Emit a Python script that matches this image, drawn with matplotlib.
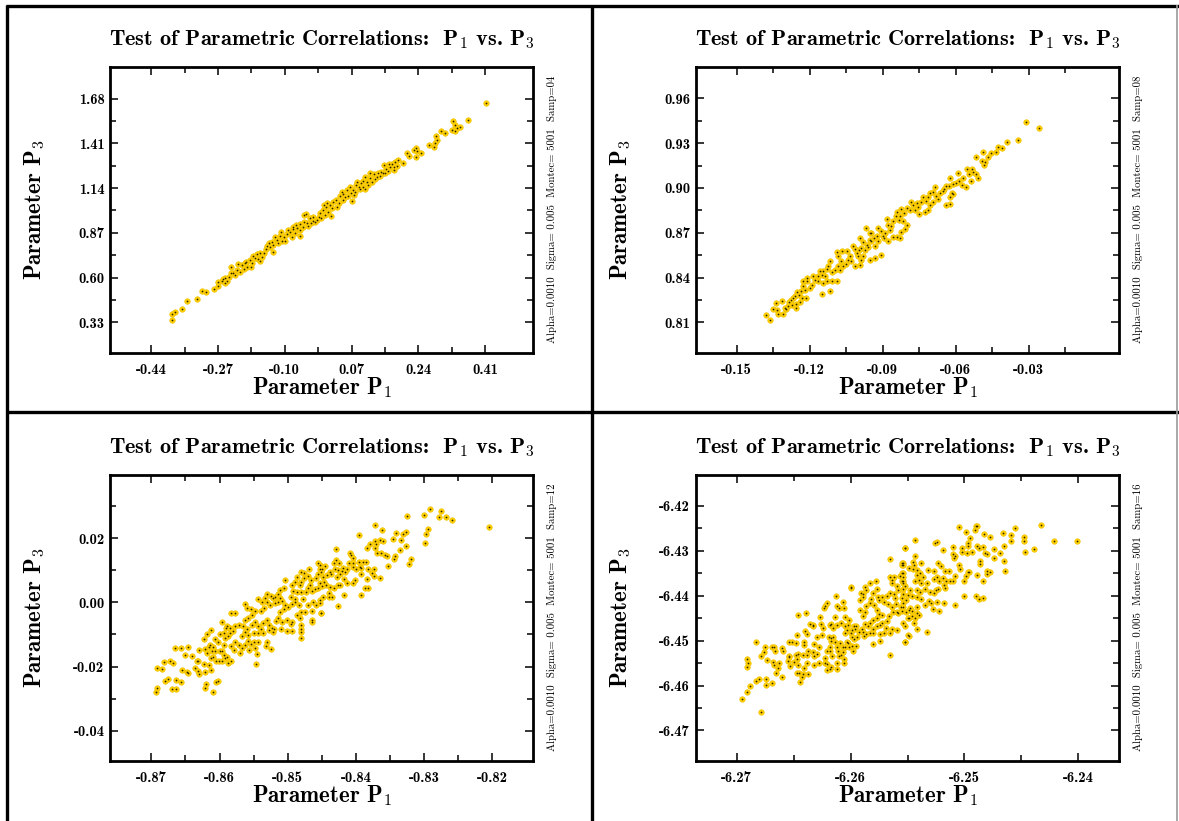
import matplotlib
matplotlib.use("Agg")
import matplotlib.pyplot as plt
from matplotlib.lines import Line2D

plt.rcParams['mathtext.fontset'] = 'cm'
plt.rcParams['axes.unicode_minus'] = False

# ---------------- data (P1, P3) pairs ----------------
p1_xy = [
    (0.189, 1.309), (0.181, 1.299), (0.174, 1.285), (0.187, 1.273), (0.168, 1.265), (0.179, 1.249),
    (0.163, 1.243), (0.153, 1.277), (0.158, 1.253), (0.149, 1.229), (0.143, 1.214), (0.134, 1.204),
    (0.126, 1.222), (0.118, 1.229), (0.130, 1.192), (0.121, 1.176), (0.109, 1.178), (0.100, 1.184),
    (0.113, 1.158), (0.098, 1.148), (0.085, 1.178), (0.082, 1.158), (0.073, 1.128), (0.092, 1.132),
    (0.105, 1.136), (0.079, 1.118), (0.066, 1.144), (0.058, 1.128), (0.049, 1.104), (0.062, 1.092),
    (0.072, 1.064), (0.041, 1.092), (0.048, 1.068), (0.037, 1.048), (0.024, 1.058), (0.015, 1.038),
    (0.032, 1.028), (0.005, 1.028), (-0.003, 1.008), (0.011, 0.998), (0.017, 0.972), (0.003, 0.978),
    (-0.010, 0.988), (-0.008, 0.958), (-0.018, 0.948), (-0.027, 0.968), (-0.023, 0.938), (-0.034, 0.928),
    (-0.044, 0.932), (-0.040, 0.912), (-0.051, 0.976), (-0.047, 0.984), (-0.054, 0.904), (-0.061, 0.924),
    (-0.068, 0.898), (-0.078, 0.891), (-0.086, 0.877), (-0.074, 0.867), (-0.062, 0.851), (-0.082, 0.847),
    (-0.095, 0.863), (-0.103, 0.847), (-0.112, 0.851), (-0.107, 0.823), (-0.120, 0.827), (-0.116, 0.807),
    (-0.129, 0.797), (-0.141, 0.811), (-0.137, 0.787), (-0.147, 0.771), (-0.130, 0.757), (-0.154, 0.747),
    (-0.164, 0.751), (-0.171, 0.741), (-0.180, 0.731), (-0.169, 0.713), (-0.163, 0.703), (-0.188, 0.707),
    (-0.198, 0.697), (-0.195, 0.667), (-0.209, 0.677), (-0.218, 0.683), (-0.205, 0.653), (-0.186, 0.667),
    (-0.222, 0.647), (-0.232, 0.631), (-0.226, 0.617), (-0.243, 0.607), (-0.252, 0.597), (-0.236, 0.663),
    (-0.247, 0.583), (-0.260, 0.577), (-0.269, 0.571), (-0.252, 0.567), (-0.269, 0.550),
    (-0.281, 0.532), (-0.300, 0.512), (-0.310, 0.520), (-0.324, 0.470), (-0.349, 0.462), (-0.362, 0.412),
    (-0.380, 0.394), (-0.386, 0.380), (-0.386, 0.344),
    (0.412, 1.656), (0.367, 1.553), (0.329, 1.543), (0.333, 1.523), (0.338, 1.505), (0.326, 1.493),
    (0.334, 1.487), (0.345, 1.509), (0.308, 1.473), (0.298, 1.485), (0.285, 1.455), (0.288, 1.427),
    (0.283, 1.409), (0.280, 1.389), (0.266, 1.399), (0.233, 1.379), (0.236, 1.363), (0.228, 1.369),
    (0.246, 1.353), (0.212, 1.353), (0.216, 1.331), (0.234, 1.329), (0.202, 1.291),
    (0.177, 1.269), (0.166, 1.285), (0.155, 1.233), (0.144, 1.239), (0.138, 1.229), (0.116, 1.198),
    (0.105, 1.204), (0.094, 1.168), (0.088, 1.144), (0.077, 1.098), (0.068, 1.108), (0.054, 1.084),
    (0.045, 1.118), (0.031, 1.068), (0.020, 1.018), (0.007, 1.048), (0.000, 1.038), (-0.014, 0.968),
    (-0.029, 0.944), (-0.037, 0.958), (-0.052, 0.938), (-0.062, 0.887), (-0.071, 0.918), (-0.079, 0.904),
    (-0.091, 0.887), (-0.099, 0.823), (-0.110, 0.877), (-0.124, 0.847), (-0.133, 0.817), (-0.146, 0.791),
    (-0.158, 0.727), (-0.175, 0.717), (-0.184, 0.687), (-0.201, 0.687), (-0.213, 0.637), (-0.237, 0.627),
    (-0.258, 0.591),
]

p2_xy = [
    (-0.0312, 0.9440), (-0.0258, 0.9399), (-0.0344, 0.9321), (-0.0390, 0.9308), (-0.0427, 0.9277),
    (-0.0409, 0.9268), (-0.0433, 0.9241), (-0.0455, 0.9237), (-0.0466, 0.9210), (-0.0487, 0.9241),
    (-0.0515, 0.9206), (-0.0493, 0.9183), (-0.0479, 0.9177), (-0.0482, 0.9152), (-0.0553, 0.9125),
    (-0.0535, 0.9130), (-0.0528, 0.9108), (-0.0545, 0.9094), (-0.0515, 0.9094), (-0.0508, 0.9070),
    (-0.0539, 0.9045), (-0.0572, 0.9065), (-0.0589, 0.9103), (-0.0586, 0.9050), (-0.0597, 0.9036),
    (-0.0576, 0.9021), (-0.0559, 0.9005), (-0.0611, 0.9027), (-0.0622, 0.9065), (-0.0627, 0.9010),
    (-0.0638, 0.9014), (-0.0647, 0.8992), (-0.0654, 0.8983), (-0.0617, 0.8965), (-0.0624, 0.8938),
    (-0.0613, 0.8961), (-0.0638, 0.8889), (-0.0624, 0.8894), (-0.0665, 0.8965), (-0.0679, 0.8943),
    (-0.0686, 0.9005), (-0.0693, 0.8976), (-0.0704, 0.8965), (-0.0713, 0.8938), (-0.0723, 0.8916),
    (-0.0706, 0.8887), (-0.0693, 0.8903), (-0.0672, 0.8925), (-0.0736, 0.8938), (-0.0742, 0.8909),
    (-0.0754, 0.8871), (-0.0761, 0.8898), (-0.0775, 0.8887), (-0.0782, 0.8903), (-0.0768, 0.8854),
    (-0.0750, 0.8827), (-0.0727, 0.8842), (-0.0713, 0.8854), (-0.0788, 0.8854), (-0.0802, 0.8865),
    (-0.0813, 0.8831), (-0.0823, 0.8858), (-0.0829, 0.8814), (-0.0843, 0.8842), (-0.0832, 0.8787),
    (-0.0818, 0.8776), (-0.0802, 0.8753), (-0.0809, 0.8724), (-0.0823, 0.8702), (-0.0846, 0.8809),
    (-0.0857, 0.8776), (-0.0864, 0.8747), (-0.0870, 0.8720), (-0.0884, 0.8791), (-0.0877, 0.8753),
    (-0.0891, 0.8698), (-0.0905, 0.8715), (-0.0898, 0.8680), (-0.0895, 0.8664), (-0.0877, 0.8642),
    (-0.0857, 0.8675), (-0.0843, 0.8671), (-0.0829, 0.8664), (-0.0918, 0.8731), (-0.0925, 0.8680),
    (-0.0936, 0.8664), (-0.0946, 0.8698), (-0.0953, 0.8649), (-0.0969, 0.8731), (-0.0980, 0.8635),
    (-0.0994, 0.8664), (-0.0966, 0.8620), (-0.0959, 0.8604), (-0.0973, 0.8586), (-0.0987, 0.8597),
    (-0.0996, 0.8582), (-0.1007, 0.8564), (-0.1000, 0.8542), (-0.0987, 0.8519), (-0.1014, 0.8475),
    (-0.1028, 0.8508), (-0.1035, 0.8542), (-0.1041, 0.8519), (-0.1051, 0.8493), (-0.1062, 0.8475),
    (-0.1076, 0.8453), (-0.1087, 0.8568), (-0.1083, 0.8542), (-0.1065, 0.8577), (-0.1046, 0.8577),
    (-0.1021, 0.8613), (-0.1014, 0.8591), (-0.0932, 0.8531), (-0.0905, 0.8553), (-0.0953, 0.8519),
    (-0.0980, 0.8542), (-0.0994, 0.8486), (-0.1069, 0.8508), (-0.1083, 0.8475), (-0.1096, 0.8453),
    (-0.1106, 0.8435), (-0.1117, 0.8508), (-0.1124, 0.8479), (-0.1130, 0.8457), (-0.1144, 0.8441),
    (-0.1158, 0.8443), (-0.1165, 0.8408), (-0.1151, 0.8419), (-0.1137, 0.8408), (-0.1110, 0.8375),
    (-0.1089, 0.8375), (-0.1130, 0.8375), (-0.1144, 0.8363), (-0.1165, 0.8375), (-0.1178, 0.8386),
    (-0.1185, 0.8408), (-0.1192, 0.8352), (-0.1199, 0.8330), (-0.1212, 0.8397), (-0.1210, 0.8375),
    (-0.1226, 0.8375), (-0.1229, 0.8341), (-0.1219, 0.8319), (-0.1237, 0.8308), (-0.1243, 0.8283),
    (-0.1251, 0.8301), (-0.1260, 0.8274), (-0.1270, 0.8263), (-0.1278, 0.8248), (-0.1284, 0.8234),
    (-0.1273, 0.8219), (-0.1288, 0.8207), (-0.1256, 0.8225), (-0.1254, 0.8196), (-0.1240, 0.8234),
    (-0.1233, 0.8263), (-0.1215, 0.8261), (-0.1297, 0.8190), (-0.1315, 0.8241), (-0.1338, 0.8230),
    (-0.1349, 0.8190), (-0.1333, 0.8181), (-0.1329, 0.8156), (-0.1311, 0.8158), (-0.1301, 0.8194),
    (-0.1379, 0.8147), (-0.1363, 0.8118), (-0.1151, 0.8292), (-0.1117, 0.8312), (-0.0918, 0.8642),
    (-0.0946, 0.8642), (-0.0953, 0.8698), (-0.0932, 0.8609),
]

p3_xy = [
    (-0.8693, -0.0278), (-0.8691, -0.0268), (-0.8670, -0.0271), (-0.8664, -0.0270), (-0.8680, -0.0244),
    (-0.8675, -0.0238), (-0.8664, -0.0242), (-0.8656, -0.0247), (-0.8691, -0.0205), (-0.8684, -0.0207),
    (-0.8682, -0.0187), (-0.8672, -0.0184), (-0.8668, -0.0188), (-0.8665, -0.0141), (-0.8657, -0.0141),
    (-0.8646, -0.0138), (-0.8651, -0.0164), (-0.8641, -0.0166), (-0.8630, -0.0148), (-0.8621, -0.0146),
    (-0.8655, -0.0211), (-0.8648, -0.0216), (-0.8646, -0.0221), (-0.8636, -0.0205), (-0.8631, -0.0213),
    (-0.8630, -0.0224), (-0.8621, -0.0216), (-0.8612, -0.0211), (-0.8616, -0.0195), (-0.8623, -0.0191),
    (-0.8631, -0.0184), (-0.8633, -0.0182), (-0.8620, -0.0254), (-0.8621, -0.0266), (-0.8605, -0.0247),
    (-0.8602, -0.0245), (-0.8609, -0.0278), (-0.8612, -0.0174), (-0.8609, -0.0171), (-0.8605, -0.0184),
    (-0.8601, -0.0184), (-0.8597, -0.0182), (-0.8592, -0.0174), (-0.8587, -0.0190), (-0.8583, -0.0182),
    (-0.8594, -0.0164), (-0.8589, -0.0169), (-0.8599, -0.0153), (-0.8606, -0.0153), (-0.8611, -0.0153),
    (-0.8616, -0.0138), (-0.8614, -0.0132), (-0.8618, -0.0159), (-0.8609, -0.0138), (-0.8602, -0.0122),
    (-0.8596, -0.0153), (-0.8593, -0.0132), (-0.8607, -0.0114), (-0.8623, -0.0114), (-0.8618, -0.0099),
    (-0.8612, -0.0087), (-0.8599, -0.0099), (-0.8594, -0.0095), (-0.8592, -0.0112), (-0.8588, -0.0106),
    (-0.8583, -0.0135), (-0.8579, -0.0148), (-0.8578, -0.0124), (-0.8572, -0.0132), (-0.8567, -0.0143),
    (-0.8570, -0.0159), (-0.8563, -0.0132), (-0.8559, -0.0120), (-0.8557, -0.0147), (-0.8554, -0.0130),
    (-0.8550, -0.0122), (-0.8548, -0.0143), (-0.8543, -0.0122), (-0.8545, -0.0162), (-0.8547, -0.0193),
    (-0.8531, -0.0124), (-0.8532, -0.0135), (-0.8525, -0.0145), (-0.8567, -0.0106), (-0.8563, -0.0091),
    (-0.8558, -0.0101), (-0.8550, -0.0096), (-0.8543, -0.0096), (-0.8537, -0.0096), (-0.8581, -0.0089),
    (-0.8584, -0.0096), (-0.8578, -0.0075), (-0.8584, -0.0080), (-0.8589, -0.0072), (-0.8596, -0.0062),
    (-0.8591, -0.0080), (-0.8572, -0.0070), (-0.8565, -0.0075), (-0.8560, -0.0083), (-0.8553, -0.0070),
    (-0.8548, -0.0060), (-0.8543, -0.0075), (-0.8539, -0.0083), (-0.8536, -0.0065), (-0.8531, -0.0054),
    (-0.8527, -0.0070), (-0.8523, -0.0080), (-0.8521, -0.0091), (-0.8528, -0.0086), (-0.8563, -0.0054),
    (-0.8558, -0.0049), (-0.8552, -0.0039), (-0.8548, -0.0026), (-0.8554, -0.0020), (-0.8563, -0.0006),
    (-0.8560, -0.0018), (-0.8583, -0.0034), (-0.8577, -0.0034), (-0.8539, -0.0026), (-0.8535, -0.0016),
    (-0.8531, 0.0002), (-0.8526, -0.0008), (-0.8522, 0.0013), (-0.8519, -0.0003), (-0.8515, 0.0000),
    (-0.8511, 0.0015), (-0.8508, 0.0006), (-0.8504, -0.0008), (-0.8499, -0.0013), (-0.8494, -0.0006),
    (-0.8490, 0.0002), (-0.8484, -0.0008), (-0.8505, -0.0020), (-0.8511, -0.0029), (-0.8515, -0.0047),
    (-0.8518, -0.0058), (-0.8509, -0.0060), (-0.8501, -0.0054), (-0.8494, -0.0060), (-0.8495, -0.0068),
    (-0.8487, -0.0039), (-0.8482, -0.0049), (-0.8480, -0.0070), (-0.8481, -0.0083), (-0.8480, -0.0093),
    (-0.8480, -0.0110), (-0.8494, -0.0089), (-0.8501, -0.0089), (-0.8510, -0.0083), (-0.8520, -0.0083),
    (-0.8511, 0.0039), (-0.8505, 0.0044), (-0.8515, 0.0025), (-0.8519, 0.0018), (-0.8524, 0.0021),
    (-0.8530, 0.0025), (-0.8533, 0.0015), (-0.8538, 0.0002), (-0.8543, 0.0011), (-0.8492, 0.0036),
    (-0.8487, 0.0032), (-0.8482, 0.0054), (-0.8480, 0.0063), (-0.8476, 0.0075), (-0.8471, 0.0084),
    (-0.8466, 0.0070), (-0.8467, 0.0054), (-0.8480, 0.0034), (-0.8474, 0.0034), (-0.8471, 0.0044),
    (-0.8465, 0.0036), (-0.8460, 0.0042), (-0.8455, 0.0046), (-0.8453, 0.0060), (-0.8458, 0.0075),
    (-0.8455, 0.0088), (-0.8448, 0.0080), (-0.8450, 0.0106), (-0.8453, 0.0117), (-0.8456, 0.0122),
    (-0.8469, 0.0106), (-0.8476, 0.0091), (-0.8480, 0.0096), (-0.8487, 0.0080), (-0.8490, 0.0063),
    (-0.8494, 0.0054), (-0.8504, 0.0070), (-0.8495, 0.0018), (-0.8489, 0.0011), (-0.8477, 0.0011),
    (-0.8480, -0.0029), (-0.8475, -0.0031), (-0.8465, -0.0026), (-0.8470, -0.0008), (-0.8463, 0.0000),
    (-0.8458, -0.0008), (-0.8451, -0.0034), (-0.8465, -0.0054), (-0.8464, -0.0062),
    (-0.8205, 0.0236), (-0.8292, 0.0293), (-0.8275, 0.0286), (-0.8300, 0.0273), (-0.8279, 0.0267),
    (-0.8268, 0.0267), (-0.8259, 0.0257), (-0.8326, 0.0271), (-0.8294, 0.0229), (-0.8298, 0.0215),
    (-0.8299, 0.0187), (-0.8372, 0.0241), (-0.8362, 0.0226), (-0.8396, 0.0210), (-0.8341, 0.0218),
    (-0.8331, 0.0213), (-0.8327, 0.0219), (-0.8346, 0.0199), (-0.8334, 0.0196), (-0.8365, 0.0195),
    (-0.8361, 0.0192), (-0.8372, 0.0192), (-0.8379, 0.0181), (-0.8384, 0.0169), (-0.8372, 0.0169),
    (-0.8371, 0.0181), (-0.8369, 0.0156), (-0.8363, 0.0156), (-0.8358, 0.0148), (-0.8354, 0.0146),
    (-0.8343, 0.0145), (-0.8345, 0.0135), (-0.8353, 0.0115), (-0.8336, 0.0163), (-0.8327, 0.0177),
    (-0.8319, 0.0137), (-0.8323, 0.0121), (-0.8429, 0.0166), (-0.8409, 0.0156), (-0.8408, 0.0148),
    (-0.8404, 0.0140), (-0.8429, 0.0132), (-0.8432, 0.0122), (-0.8425, 0.0122), (-0.8445, 0.0114),
    (-0.8453, 0.0106), (-0.8451, 0.0096), (-0.8410, 0.0122), (-0.8404, 0.0122), (-0.8395, 0.0127),
    (-0.8390, 0.0127), (-0.8385, 0.0125), (-0.8394, 0.0112), (-0.8392, 0.0108), (-0.8404, 0.0112),
    (-0.8400, 0.0104), (-0.8413, 0.0104), (-0.8419, 0.0108), (-0.8421, 0.0098), (-0.8416, 0.0094),
    (-0.8426, 0.0101), (-0.8431, 0.0106), (-0.8438, 0.0096), (-0.8436, 0.0088), (-0.8443, 0.0086),
    (-0.8428, 0.0080), (-0.8423, 0.0088), (-0.8383, 0.0106), (-0.8374, 0.0106), (-0.8377, 0.0093),
    (-0.8374, 0.0082), (-0.8365, 0.0075), (-0.8393, 0.0088), (-0.8401, 0.0070), (-0.8405, 0.0062),
    (-0.8413, 0.0062), (-0.8418, 0.0072), (-0.8423, 0.0054), (-0.8427, 0.0054), (-0.8433, 0.0046),
    (-0.8438, 0.0049), (-0.8444, 0.0056), (-0.8447, 0.0065), (-0.8450, 0.0052), (-0.8439, 0.0031),
    (-0.8435, 0.0018), (-0.8439, 0.0018), (-0.8449, 0.0018), (-0.8453, 0.0008), (-0.8387, 0.0046),
    (-0.8383, 0.0046), (-0.8384, 0.0073), (-0.8393, 0.0023), (-0.8418, 0.0023), (-0.8426, -0.0010),
    (-0.8451, -0.0033), (-0.8453, -0.0003),
]

p4_xy = [
    (-6.2695, -6.4630), (-6.2679, -6.4658), (-6.2691, -6.4614), (-6.2688, -6.4602), (-6.2683, -6.4589),
    (-6.2680, -6.4585), (-6.2691, -6.4559), (-6.2690, -6.4550), (-6.2691, -6.4541), (-6.2683, -6.4503),
    (-6.2679, -6.4534), (-6.2676, -6.4526), (-6.2675, -6.4513), (-6.2669, -6.4515), (-6.2667, -6.4514),
    (-6.2666, -6.4524), (-6.2673, -6.4544), (-6.2668, -6.4547), (-6.2667, -6.4554), (-6.2663, -6.4550),
    (-6.2664, -6.4561), (-6.2665, -6.4571), (-6.2660, -6.4580), (-6.2669, -6.4595), (-6.2674, -6.4598),
    (-6.2674, -6.4586), (-6.2660, -6.4517), (-6.2659, -6.4524), (-6.2654, -6.4502), (-6.2651, -6.4502),
    (-6.2648, -6.4506), (-6.2647, -6.4488), (-6.2654, -6.4534), (-6.2655, -6.4546), (-6.2653, -6.4556),
    (-6.2654, -6.4537), (-6.2648, -6.4532), (-6.2646, -6.4530), (-6.2647, -6.4541), (-6.2650, -6.4548),
    (-6.2646, -6.4554), (-6.2647, -6.4572), (-6.2645, -6.4572), (-6.2643, -6.4580), (-6.2642, -6.4574),
    (-6.2644, -6.4593), (-6.2641, -6.4561), (-6.2637, -6.4574), (-6.2638, -6.4549), (-6.2642, -6.4532),
    (-6.2638, -6.4532), (-6.2637, -6.4522), (-6.2641, -6.4510), (-6.2641, -6.4504), (-6.2640, -6.4478),
    (-6.2638, -6.4485), (-6.2636, -6.4463), (-6.2633, -6.4465), (-6.2633, -6.4467), (-6.2646, -6.4443),
    (-6.2639, -6.4439), (-6.2633, -6.4526), (-6.2632, -6.4534), (-6.2629, -6.4529), (-6.2628, -6.4550),
    (-6.2632, -6.4555), (-6.2628, -6.4513), (-6.2632, -6.4507), (-6.2629, -6.4492), (-6.2625, -6.4487),
    (-6.2627, -6.4448), (-6.2626, -6.4463), (-6.2624, -6.4472), (-6.2623, -6.4428), (-6.2622, -6.4422),
    (-6.2621, -6.4417), (-6.2618, -6.4465), (-6.2617, -6.4463), (-6.2614, -6.4448), (-6.2613, -6.4401),
    (-6.2612, -6.4423), (-6.2610, -6.4428), (-6.2615, -6.4471), (-6.2612, -6.4466), (-6.2608, -6.4461),
    (-6.2607, -6.4414), (-6.2606, -6.4428), (-6.2605, -6.4467), (-6.2602, -6.4466), (-6.2601, -6.4454),
    (-6.2600, -6.4381), (-6.2600, -6.4383), (-6.2605, -6.4448), (-6.2619, -6.4491), (-6.2617, -6.4494),
    (-6.2615, -6.4491), (-6.2617, -6.4500), (-6.2618, -6.4513), (-6.2614, -6.4504), (-6.2612, -6.4513),
    (-6.2609, -6.4506), (-6.2611, -6.4524), (-6.2618, -6.4524), (-6.2616, -6.4535), (-6.2621, -6.4524),
    (-6.2622, -6.4539), (-6.2622, -6.4549), (-6.2621, -6.4552), (-6.2621, -6.4565), (-6.2618, -6.4563),
    (-6.2617, -6.4558), (-6.2612, -6.4550), (-6.2612, -6.4563), (-6.2610, -6.4535), (-6.2608, -6.4532),
    (-6.2607, -6.4526), (-6.2606, -6.4549), (-6.2606, -6.4541), (-6.2607, -6.4513), (-6.2605, -6.4513),
    (-6.2603, -6.4502), (-6.2602, -6.4506), (-6.2601, -6.4513), (-6.2599, -6.4511), (-6.2598, -6.4522),
    (-6.2600, -6.4482), (-6.2599, -6.4476), (-6.2597, -6.4468), (-6.2596, -6.4474), (-6.2595, -6.4468),
    (-6.2593, -6.4480), (-6.2590, -6.4474), (-6.2594, -6.4491), (-6.2597, -6.4497), (-6.2595, -6.4511),
    (-6.2599, -6.4491), (-6.2605, -6.4483), (-6.2603, -6.4476), (-6.2592, -6.4409), (-6.2591, -6.4393),
    (-6.2589, -6.4396), (-6.2589, -6.4403), (-6.2592, -6.4431), (-6.2589, -6.4446), (-6.2587, -6.4437),
    (-6.2586, -6.4423), (-6.2583, -6.4417), (-6.2582, -6.4408), (-6.2580, -6.4394), (-6.2586, -6.4387),
    (-6.2587, -6.4381), (-6.2583, -6.4371), (-6.2578, -6.4366), (-6.2577, -6.4385), (-6.2576, -6.4402),
    (-6.2575, -6.4409), (-6.2579, -6.4420), (-6.2577, -6.4431), (-6.2575, -6.4440), (-6.2572, -6.4443),
    (-6.2577, -6.4450), (-6.2580, -6.4455), (-6.2583, -6.4461), (-6.2585, -6.4468), (-6.2587, -6.4463),
    (-6.2589, -6.4480), (-6.2588, -6.4489), (-6.2586, -6.4486), (-6.2583, -6.4483), (-6.2580, -6.4473),
    (-6.2577, -6.4468), (-6.2574, -6.4465), (-6.2572, -6.4460), (-6.2568, -6.4457), (-6.2566, -6.4445),
    (-6.2563, -6.4437), (-6.2559, -6.4437), (-6.2556, -6.4424), (-6.2554, -6.4417), (-6.2560, -6.4418),
    (-6.2564, -6.4424), (-6.2567, -6.4418), (-6.2571, -6.4413), (-6.2572, -6.4402), (-6.2568, -6.4400),
    (-6.2565, -6.4393), (-6.2562, -6.4396), (-6.2561, -6.4405), (-6.2558, -6.4387), (-6.2559, -6.4379),
    (-6.2564, -6.4372), (-6.2564, -6.4365), (-6.2565, -6.4359), (-6.2562, -6.4359), (-6.2557, -6.4357),
    (-6.2555, -6.4350), (-6.2555, -6.4368), (-6.2554, -6.4371), (-6.2552, -6.4379), (-6.2554, -6.4385),
    (-6.2554, -6.4326), (-6.2555, -6.4331), (-6.2565, -6.4319), (-6.2552, -6.4293), (-6.2580, -6.4483),
    (-6.2574, -6.4486), (-6.2571, -6.4483), (-6.2569, -6.4472), (-6.2565, -6.4483), (-6.2564, -6.4474),
    (-6.2580, -6.4507), (-6.2574, -6.4500), (-6.2565, -6.4532), (-6.2559, -6.4476), (-6.2558, -6.4439),
    (-6.2550, -6.4487), (-6.2552, -6.4502), (-6.2551, -6.4409), (-6.2549, -6.4431), (-6.2549, -6.4450),
    (-6.2401, -6.4278), (-6.2421, -6.4277), (-6.2433, -6.4242), (-6.2439, -6.4296), (-6.2447, -6.4302),
    (-6.2448, -6.4268), (-6.2448, -6.4279), (-6.2456, -6.4250), (-6.2459, -6.4265), (-6.2459, -6.4277),
    (-6.2466, -6.4260), (-6.2465, -6.4289), (-6.2469, -6.4305), (-6.2474, -6.4296), (-6.2474, -6.4316),
    (-6.2465, -6.4322), (-6.2464, -6.4344), (-6.2478, -6.4270), (-6.2483, -6.4262), (-6.2490, -6.4244),
    (-6.2491, -6.4253), (-6.2489, -6.4244), (-6.2495, -6.4271), (-6.2497, -6.4282), (-6.2497, -6.4290),
    (-6.2499, -6.4259), (-6.2505, -6.4246), (-6.2502, -6.4293), (-6.2502, -6.4302), (-6.2498, -6.4304),
    (-6.2493, -6.4302), (-6.2489, -6.4289), (-6.2487, -6.4293), (-6.2484, -6.4292), (-6.2482, -6.4304),
    (-6.2480, -6.4307), (-6.2486, -6.4322), (-6.2486, -6.4330), (-6.2484, -6.4367), (-6.2496, -6.4348),
    (-6.2497, -6.4346), (-6.2499, -6.4356), (-6.2500, -6.4367), (-6.2504, -6.4341), (-6.2505, -6.4331),
    (-6.2508, -6.4311), (-6.2510, -6.4307), (-6.2510, -6.4292), (-6.2509, -6.4315), (-6.2508, -6.4357),
    (-6.2510, -6.4368), (-6.2514, -6.4345), (-6.2517, -6.4344), (-6.2519, -6.4360), (-6.2522, -6.4368),
    (-6.2518, -6.4376), (-6.2516, -6.4368), (-6.2513, -6.4366), (-6.2517, -6.4383), (-6.2523, -6.4385),
    (-6.2525, -6.4388), (-6.2527, -6.4393), (-6.2530, -6.4391), (-6.2532, -6.4342), (-6.2527, -6.4345),
    (-6.2524, -6.4359), (-6.2527, -6.4363), (-6.2523, -6.4328), (-6.2521, -6.4334), (-6.2519, -6.4299),
    (-6.2526, -6.4283), (-6.2524, -6.4281), (-6.2543, -6.4276), (-6.2552, -6.4293), (-6.2538, -6.4326),
    (-6.2543, -6.4311), (-6.2545, -6.4324), (-6.2544, -6.4331), (-6.2555, -6.4326), (-6.2554, -6.4331),
    (-6.2554, -6.4350), (-6.2554, -6.4359), (-6.2554, -6.4368), (-6.2549, -6.4339), (-6.2545, -6.4341),
    (-6.2542, -6.4342), (-6.2542, -6.4354), (-6.2539, -6.4350), (-6.2536, -6.4359), (-6.2540, -6.4365),
    (-6.2543, -6.4366), (-6.2538, -6.4371), (-6.2533, -6.4372), (-6.2535, -6.4385), (-6.2539, -6.4391),
    (-6.2542, -6.4388), (-6.2548, -6.4388), (-6.2550, -6.4398), (-6.2554, -6.4396), (-6.2555, -6.4405),
    (-6.2546, -6.4400), (-6.2542, -6.4403), (-6.2538, -6.4408), (-6.2535, -6.4420), (-6.2542, -6.4424),
    (-6.2548, -6.4428), (-6.2554, -6.4424), (-6.2555, -6.4435), (-6.2551, -6.4437), (-6.2546, -6.4435),
    (-6.2542, -6.4439), (-6.2540, -6.4443), (-6.2543, -6.4450), (-6.2546, -6.4446), (-6.2550, -6.4450),
    (-6.2554, -6.4460), (-6.2552, -6.4467), (-6.2544, -6.4461), (-6.2542, -6.4474), (-6.2549, -6.4489),
    (-6.2552, -6.4503), (-6.2533, -6.4481), (-6.2531, -6.4411), (-6.2529, -6.4415), (-6.2524, -6.4413),
    (-6.2518, -6.4415), (-6.2522, -6.4435), (-6.2528, -6.4429), (-6.2508, -6.4420), (-6.2500, -6.4400),
    (-6.2490, -6.4400), (-6.2487, -6.4407), (-6.2484, -6.4406), (-6.2489, -6.4354), (-6.2480, -6.4351),
    (-6.2478, -6.4348), (-6.2480, -6.4344),
]

# ---------------- axis ticks / labels ----------------
p1_xticks = [-0.44, -0.27, -0.10, 0.07, 0.24, 0.41]
p1_xlabels = ["-0.44", "-0.27", "-0.10", "0.07", "0.24", "0.41"]
p1_yticks = [0.33, 0.60, 0.87, 1.14, 1.41, 1.68]
p1_ylabels = ["0.33", "0.60", "0.87", "1.14", "1.41", "1.68"]

p2_xticks = [-0.15, -0.12, -0.09, -0.06, -0.03]
p2_xlabels = ["-0.15", "-0.12", "-0.09", "-0.06", "-0.03"]
p2_yticks = [0.81, 0.84, 0.87, 0.90, 0.93, 0.96]
p2_ylabels = ["0.81", "0.84", "0.87", "0.90", "0.93", "0.96"]

p3_xticks = [-0.87, -0.86, -0.85, -0.84, -0.83, -0.82]
p3_xlabels = ["-0.87", "-0.86", "-0.85", "-0.84", "-0.83", "-0.82"]
p3_yticks = [-0.04, -0.02, 0.00, 0.02]
p3_ylabels = ["-0.04", "-0.02", "0.00", "0.02"]

p4_xticks = [-6.27, -6.26, -6.25, -6.24]
p4_xlabels = ["-6.27", "-6.26", "-6.25", "-6.24"]
p4_yticks = [-6.47, -6.46, -6.45, -6.44, -6.43, -6.42]
p4_ylabels = ["-6.47", "-6.46", "-6.45", "-6.44", "-6.43", "-6.42"]

samples = ["04", "08", "12", "16"]
title_text = r"Test of Parametric Correlations:  P$_1$ vs. P$_3$"
xlabel_text = r"Parameter P$_1$"
ylabel_text = r"Parameter P$_3$"
info_fmt = "Alpha=0.0010  Sigma= 0.005  Montec= 5001  Samp={}"

# ---------------- layout ----------------
W, H = 1179, 821
fig = plt.figure(figsize=(W / 100, H / 100), dpi=100)
fig.patch.set_facecolor("white")

BOLD = "cmb10"
ROMAN = "cmr10"
DOT_FACE = "#FFD000"
DOT_EDGE = "#EDC000"


def fx(x):
    return x / W


def fy(y):
    return 1 - y / H


def minor_between(ticks, extra_hi=False, extra_lo=False):
    step = ticks[1] - ticks[0]
    out = [t + step / 2 for t in ticks[:-1]]
    if extra_hi:
        out.append(ticks[-1] + step / 2)
    if extra_lo:
        out.insert(0, ticks[0] - step / 2)
    return out


panels = [
    dict(xy=p1_xy, box=(110, 67, 533, 353), xlim=(-0.545, 0.532), ylim=(0.146, 1.870),
         xt=p1_xticks, xl=p1_xlabels, yt=p1_yticks, yl=p1_ylabels,
         xmin=minor_between(p1_xticks), ymin=minor_between(p1_yticks), samp=samples[0]),
    dict(xy=p2_xy, box=(695.6, 67, 1119.4, 353), xlim=(-0.1668, 0.0072), ylim=(0.7895, 0.981),
         xt=p2_xticks, xl=p2_xlabels, yt=p2_yticks, yl=p2_ylabels,
         xmin=minor_between(p2_xticks, extra_hi=True), ymin=minor_between(p2_yticks), samp=samples[1]),
    dict(xy=p3_xy, box=(110, 475, 533, 761), xlim=(-0.87606, -0.81406), ylim=(-0.0495, 0.0398),
         xt=p3_xticks, xl=p3_xlabels, yt=p3_yticks, yl=p3_ylabels,
         xmin=minor_between(p3_xticks), ymin=minor_between(p3_yticks, extra_hi=True), samp=samples[2]),
    dict(xy=p4_xy, box=(695.6, 475, 1119.4, 761), xlim=(-6.2736, -6.2364), ylim=(-6.4768, -6.4131),
         xt=p4_xticks, xl=p4_xlabels, yt=p4_yticks, yl=p4_ylabels,
         xmin=minor_between(p4_xticks), ymin=minor_between(p4_yticks), samp=samples[3]),
]

for p in panels:
    l, t, r, b = p["box"]
    ax = fig.add_axes([fx(l), fy(b), (r - l) / W, (b - t) / H])
    xs = [q[0] for q in p["xy"]]
    ys = [q[1] for q in p["xy"]]
    ax.scatter(xs, ys, s=16, c=DOT_FACE, edgecolors=DOT_EDGE, linewidths=0.4, zorder=3)
    ax.scatter(xs, ys, s=1.6, c="#2b2200", linewidths=0, zorder=4)
    ax.set_xlim(*p["xlim"])
    ax.set_ylim(*p["ylim"])
    ax.set_xticks(p["xt"])
    ax.set_xticklabels(p["xl"], fontfamily=BOLD, fontsize=10.5)
    ax.set_yticks(p["yt"])
    ax.set_yticklabels(p["yl"], fontfamily=BOLD, fontsize=10.5)
    ax.set_xticks(p["xmin"], minor=True)
    ax.set_yticks(p["ymin"], minor=True)
    ax.tick_params(which="both", direction="in", top=True, right=True, width=1.1, color="black")
    ax.tick_params(which="major", length=6)
    ax.tick_params(which="minor", length=4)
    ax.tick_params(axis="x", which="major", pad=7)
    ax.tick_params(axis="y", which="major", pad=4)
    for s in ax.spines.values():
        s.set_linewidth(2.0)

    cx = (l + r) / 2
    fig.text(fx(cx), fy(t - 27), title_text, fontfamily=BOLD, fontsize=16,
             ha="center", va="center")
    fig.text(fx(cx), fy(b + 35), xlabel_text, fontfamily=BOLD, fontsize=16.5,
             ha="center", va="center")
    fig.text(fx(l - 75), fy((t + b) / 2), ylabel_text, fontfamily=BOLD, fontsize=16.5,
             ha="center", va="center", rotation=90)
    fig.text(fx(r + 19), fy((t + b) / 2 - 1), info_fmt.format(p["samp"]), fontfamily=ROMAN,
             fontsize=7.8, ha="center", va="center", rotation=90)

# panel frame lines
def fline(x0, y0, x1, y1, lw=2.4, color="black"):
    fig.add_artist(Line2D([fx(x0), fx(x1)], [fy(y0), fy(y1)], color=color, lw=lw,
                          solid_capstyle="butt"))

fline(7.5, 5.5, 7.5, 821)
fline(6, 6.5, 1179, 6.5)
fline(592, 5.5, 592, 821)
fline(6, 412, 1179, 412)
fline(1177, 5.5, 1177, 821, lw=1.2, color="#9a9a9a")

fig.savefig("out.png", dpi=100, facecolor="white")
